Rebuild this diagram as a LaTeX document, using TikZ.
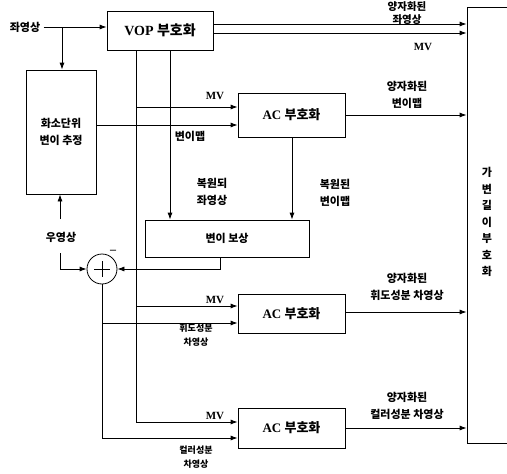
\documentclass[tikz,border=0pt]{standalone}
\usepackage{fontspec}
\setmainfont{Liberation Serif}
\newfontfamily\kr{Noto Sans CJK KR}
\usetikzlibrary{arrows.meta}
\begin{document}
\begin{tikzpicture}[x=1pt,y=-1pt, line width=0.8pt,
 arr/.style={-{Latex[length=7pt,width=5pt]}},
 box/.style={draw, rectangle, inner sep=0pt},
 lbl/.style={font=\kr\bfseries\fontsize{11}{17}\selectfont, align=center, inner sep=0pt},
 sml/.style={font=\kr\bfseries\fontsize{9}{14}\selectfont, align=center, inner sep=0pt},
 mv/.style={font=\bfseries\fontsize{11}{12}\selectfont, inner sep=0pt}]
\useasboundingbox (0,0) rectangle (507,474);

% blocks
\node[box, minimum width=106pt, minimum height=39pt] (vop) at (160,30.5)
  {\fontsize{14}{16}\selectfont\textbf{VOP} {\kr\bfseries 부호화}};
\node[box, minimum width=70pt, minimum height=124pt, lbl] (est) at (61,132)
  {화소단위\\변이 추정};
\node[box, minimum width=107pt, minimum height=44pt] (ac1) at (291.5,115)
  {\fontsize{13}{15}\selectfont\textbf{AC} {\kr\bfseries 부호화}};
\node[box, minimum width=164pt, minimum height=37pt, lbl] (comp) at (227,238.5) {변이 보상};
\node[draw, circle, minimum size=30pt, inner sep=0pt] (sum) at (102,269) {};
\draw[line width=1pt] (sum.center) ++(-8,0) -- ++(16,0);
\draw[line width=1pt] (sum.center) ++(0,-8) -- ++(0,16);
\node[box, minimum width=107pt, minimum height=39pt] (ac2) at (291.5,313.5)
  {\fontsize{13}{15}\selectfont\textbf{AC} {\kr\bfseries 부호화}};
\node[box, minimum width=107pt, minimum height=40pt] (ac3) at (291.5,428)
  {\fontsize{13}{15}\selectfont\textbf{AC} {\kr\bfseries 부호화}};
\node[box, minimum width=60pt, minimum height=436pt] (vlc) at (497,225) {};
\node[lbl, font=\kr\bfseries\fontsize{11}{16.5}\selectfont] (vlct) at (487,222)
  {가\\변\\길\\이\\부\\호\\화};

% input
\node[lbl] (in1) at (25,27) {좌영상};
\coordinate (j1) at (62,27);
\draw[arr] (in1.east) ++(3,0) -- (vop.west |- in1.east);
\draw[arr] (j1) -- (est.north -| j1);

% VOP outputs
\draw[arr] (vop.east |- 0,24) -- (vlc.west |- 0,24);
\draw[arr] (vop.east |- 0,33) -- (vlc.west |- 0,33);
\node[lbl, font=\kr\bfseries\fontsize{10.5}{13}\selectfont, anchor=north] (q1) at (407,0.8) {양자화된\\좌영상};
\node[mv] (mv0) at (423,47) {MV};

% MV line
\coordinate (m1) at (136,107);
\coordinate (m2) at (136,306);
\coordinate (m3) at (136,422);
\draw[arr] (vop.south -| m1) -- (m3) -- (ac3.west |- m3);
\draw[arr] (m1) -- (ac1.west |- m1);
\draw[arr] (m2) -- (ac2.west |- m2);
\node[mv] (mv1) at (215,96) {MV};
\node[mv] (mv2) at (215,300) {MV};
\node[mv] (mv3) at (215,416) {MV};

% reconstructed left image
\coordinate (r1) at (170,50);
\draw[arr] (vop.south -| r1) -- (comp.north -| r1);
\node[lbl] (rl) at (212,192) {복원되\\좌영상};

% disparity map
\draw[arr] (est.east |- 0,125) -- (ac1.west |- 0,125);
\node[lbl] (dm) at (190,136) {변이맵};
\draw[arr] (ac1.east) -- (vlc.west |- ac1.east);
\node[lbl] (q2) at (407,95) {양자화된\\변이맵};
\coordinate (d1) at (292,137);
\draw[arr] (ac1.south -| d1) -- (comp.north -| d1);
\node[lbl] (rd) at (335,193) {복원된\\변이맵};

% compensation to sum
\coordinate (c1) at (220,269);
\draw[arr] (comp.south -| c1) -- (c1) -- (sum.east);

% right image
\node[lbl] (ri) at (61,237) {우영상};
\coordinate (ri1) at (60,219);
\coordinate (ri2) at (60,253);
\coordinate (ri3) at (60,269);
\draw[arr] (ri1) -- (est.south -| ri1);
\draw[arr] (ri2) -- (ri3) -- (sum.west);
\node[font=\bfseries\fontsize{12}{12}\selectfont, inner sep=0pt] (minus) at (113,252) {--};

% residual outputs
\coordinate (s1) at (102,323);
\coordinate (s2) at (102,438);
\draw[arr] (sum.south) -- (s2) -- (ac3.west |- s2);
\draw[arr] (s1) -- (ac2.west |- s1);
\node[sml] (lum) at (196,335) {휘도성분\\차영상};
\node[sml] (chr) at (196,457) {컬러성분\\차영상};

\draw[arr] (ac2.east |- 0,312) -- (vlc.west |- 0,312);
\node[lbl] (q3) at (407,287) {양자화된\\휘도성분 차영상};
\draw[arr] (ac3.east) -- (vlc.west |- ac3.east);
\node[lbl] (q4) at (407,406) {양자화된\\컬러성분 차영상};
\end{tikzpicture}
\end{document}
